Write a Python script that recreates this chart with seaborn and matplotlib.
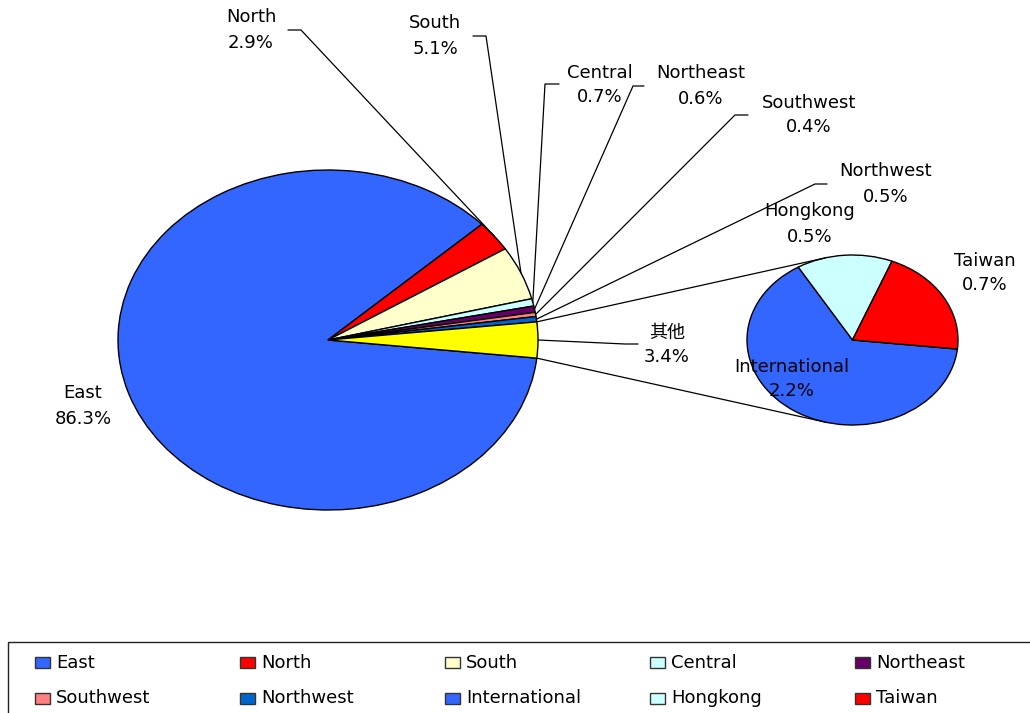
import numpy as np
import matplotlib
matplotlib.use("Agg")
import matplotlib.pyplot as plt
import seaborn as sns
from matplotlib.patches import Rectangle

# main pie, clockwise starting with East (values in %)
regions = ["East", "North", "South", "Central", "Northeast", "Southwest", "Northwest", "其他"]
region_share = [86.3, 2.9, 5.1, 0.7, 0.6, 0.4, 0.5, 3.4]
region_colors = ["#3366FF", "#FF0000", "#FFFFCC", "#CCFFFF", "#660066",
                 "#FF8080", "#0066CC", "#FFFF00"]

# breakdown of the "其他" slice
other_parts = ["International", "Hongkong", "Taiwan"]
other_share = [2.2, 0.5, 0.7]
other_colors = ["#3366FF", "#CCFFFF", "#FF0000"]

legend_labels = regions[:-1] + other_parts
legend_colors = region_colors[:-1] + other_colors

# label block centres (pixels), and leader elbow / hook end for outside labels
label_pos = {
    "East": (83, 406), "North": (251, 30), "South": (435, 36),
    "Central": (600, 85), "Northeast": (701, 86), "Southwest": (809, 115),
    "Northwest": (886, 184), "其他": (667, 345),
    "International": (792, 379), "Hongkong": (810, 224), "Taiwan": (985, 273),
}
leaders = {
    "North": ((301, 30), 288), "South": ((486, 36), 473),
    "Central": ((545, 84), 559), "Northeast": ((633, 86), 644),
    "Southwest": ((735, 115), 748), "Northwest": ((815, 184), 827),
    "其他": ((625, 344), 638),
}

sns.set_theme(style="white")
plt.rcParams["font.family"] = ["DejaVu Sans", "Noto Sans CJK SC"]

W, H = 1030, 713
fig = plt.figure(figsize=(W / 100, H / 100), dpi=100)
FS = 13


def px_axes(box, **kw):
    x0, y0, x1, y1 = box
    return fig.add_axes([x0 / W, 1 - y1 / H, (x1 - x0) / W, (y1 - y0) / H], **kw)


def rim(box, deg):
    x0, y0, x1, y1 = box
    t = np.deg2rad(deg)
    return ((x0 + x1) / 2 + (x1 - x0) / 2 * np.cos(t),
            (y0 + y1) / 2 - (y1 - y0) / 2 * np.sin(t))


MAIN = (118, 170, 538, 510)
SUB = (747, 255, 958, 425)

half_other = 180 * region_share[-1] / sum(region_share)
start = -half_other
wp = dict(edgecolor="black", linewidth=1, clip_on=False)

ax_main = px_axes(MAIN)
main_wedges, _ = ax_main.pie(region_share, colors=region_colors, startangle=start,
                             counterclock=False, wedgeprops=wp)
ax_sub = px_axes(SUB)
sub_wedges, _ = ax_sub.pie(other_share, colors=other_colors, startangle=start,
                           counterclock=False, wedgeprops=wp)
for ax in (ax_main, ax_sub):
    ax.set_aspect("auto")
    ax.set_xlim(-1, 1)
    ax.set_ylim(-1, 1)
    ax.axis("off")

# overlay in pixel coordinates for labels, leaders and legend
ov = fig.add_axes([0, 0, 1, 1], zorder=5)
ov.set_xlim(0, W)
ov.set_ylim(H, 0)
ov.axis("off")


def put_label(name, share):
    x, y = label_pos[name]
    ov.text(x, y - 12.5, name, fontsize=FS, ha="center", va="center", color="black")
    ov.text(x, y + 12.5, f"{share}%", fontsize=FS, ha="center", va="center", color="black")


for name, share, w in zip(regions, region_share, main_wedges):
    put_label(name, share)
    if name in leaders:
        (ex, ey), hx = leaders[name]
        ax_, ay_ = rim(MAIN, (w.theta1 + w.theta2) / 2)
        ov.plot([ax_, ex, hx], [ay_, ey, ey], color="black", lw=0.9)

for name, share in zip(other_parts, other_share):
    put_label(name, share)

# connector lines from the "其他" slice to the secondary pie
ow = main_wedges[-1]
for a_main, a_sub in ((max(ow.theta1, ow.theta2), 105), (min(ow.theta1, ow.theta2), -105)):
    p1 = rim(MAIN, a_main)
    p2 = rim(SUB, a_sub)
    ov.plot([p1[0], p2[0]], [p1[1], p2[1]], color="black", lw=0.9, zorder=1)

# legend box
ov.add_patch(Rectangle((8, 642), 1100, 100, fill=False, edgecolor="#222222", lw=1))
for i, (lab, col) in enumerate(zip(legend_labels, legend_colors)):
    c, r = i % 5, i // 5
    ov.add_patch(Rectangle((35 + 205 * c, 657 + 35.5 * r), 15, 11,
                           facecolor=col, edgecolor="#333333", lw=1))
    ov.text(56 + 205 * c, 662.5 + 35.5 * r, lab, fontsize=FS, ha="left",
            va="center", color="black")

fig.savefig("out.png", dpi=100)
